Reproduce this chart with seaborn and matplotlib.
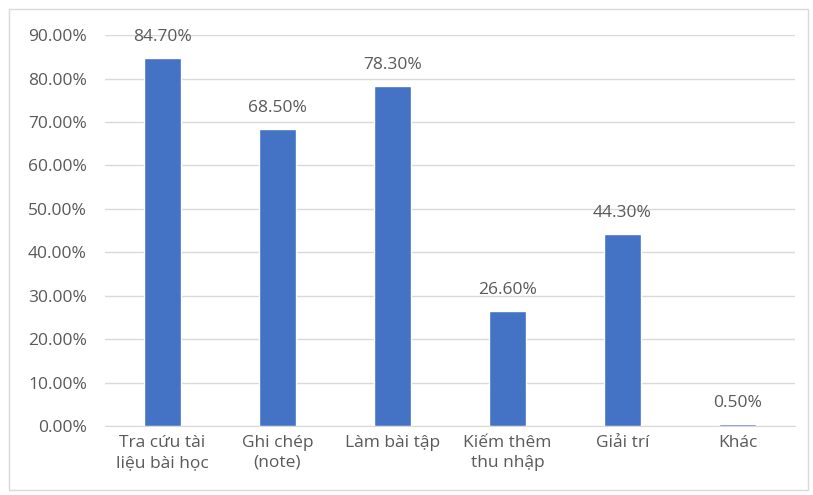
import matplotlib
matplotlib.use("Agg")
import matplotlib.pyplot as plt
import seaborn as sns
import pandas as pd
from matplotlib.patches import Rectangle
from matplotlib.ticker import FuncFormatter

categories = ["Tra cứu tài\nliệu bài học", "Ghi chép\n(note)", "Làm bài tập",
              "Kiếm thêm\nthu nhập", "Giải trí", "Khác"]
values = [84.7, 68.5, 78.3, 26.6, 44.3, 0.5]
y_ticks = [0, 10, 20, 30, 40, 50, 60, 70, 80, 90]

sns.set_style("white")
plt.rcParams["font.family"] = ["Open Sans", "DejaVu Sans"]

df = pd.DataFrame({"category": categories, "value": values})

fig = plt.figure(figsize=(8.13, 4.95), dpi=100)
ax = fig.add_axes([0.129, 0.139, 0.849, 0.790])

sns.barplot(data=df, x="category", y="value", color="#4472C4", width=0.32,
            saturation=1, ax=ax, zorder=3)

text_color = "#595959"
fs = 12.5
ax.set_ylim(0, 90)
ax.set_yticks(y_ticks)
ax.yaxis.set_major_formatter(FuncFormatter(lambda v, _: f"{v:.2f}%"))
ax.grid(axis="y", color="#D9D9D9", linewidth=1, zorder=0)
ax.set_axisbelow(True)
for side in ["top", "right", "left"]:
    ax.spines[side].set_visible(False)
ax.spines["bottom"].set_color("#D9D9D9")
ax.tick_params(axis="both", length=0, colors=text_color, labelsize=fs)
ax.tick_params(axis="y", pad=13)
ax.tick_params(axis="x", pad=6)
for lbl in ax.get_xticklabels():
    lbl.set_linespacing(1.35)
ax.set_xlabel("")
ax.set_ylabel("")

for i, v in enumerate(values):
    ax.annotate(f"{v:.2f}%", (i, v), xytext=(0, 15), textcoords="offset points",
                ha="center", va="center", color=text_color, fontsize=fs)

fig.patches.append(Rectangle((9 / 813, 5 / 495), 799 / 813, 481 / 495,
                             transform=fig.transFigure, fill=False,
                             edgecolor="#D9D9D9", linewidth=1))

fig.savefig("out.png", dpi=100)
